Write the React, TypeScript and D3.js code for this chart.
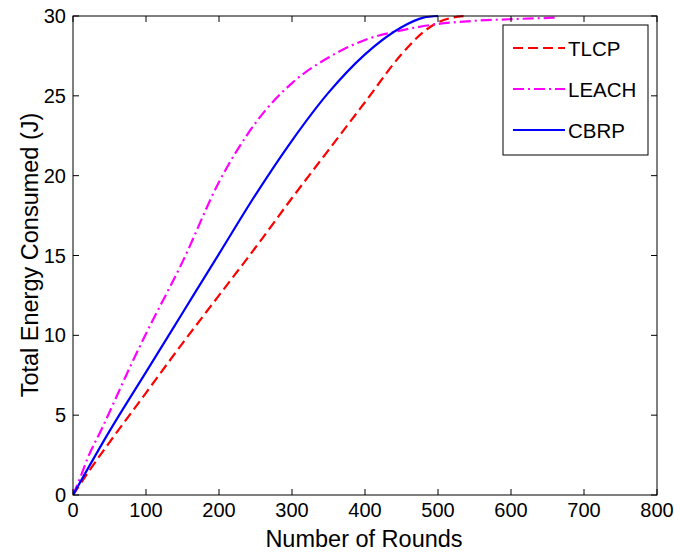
import React from 'react';
import * as d3 from 'd3';

// energy consumed vs rounds
const tlcpRounds = [0, 25, 50, 100, 150, 200, 250, 300, 350, 400, 450, 480, 500, 520, 540];
const tlcpEnergy = [0, 1.7, 3.3, 6.4, 9.5, 12.5, 15.5, 18.6, 21.6, 24.6, 27.6, 29.0, 29.6, 29.9, 30];

const leachRounds = [0, 10, 20, 40, 60, 80, 100, 150, 200, 250, 300, 350, 400, 450, 500, 550, 600, 665];
const leachEnergy = [0, 1.1, 2.3, 4.2, 6.2, 8.2, 10.1, 14.6, 19.6, 23.3, 25.8, 27.4, 28.5, 29.1, 29.5, 29.7, 29.8, 29.9];

const cbrpRounds = [0, 50, 100, 150, 200, 250, 300, 350, 400, 450, 480, 500];
const cbrpEnergy = [0, 4.0, 7.7, 11.4, 15.1, 18.8, 22.2, 25.2, 27.6, 29.3, 29.9, 30];

const xTicks = [0, 100, 200, 300, 400, 500, 600, 700, 800];
const yTicks = [0, 5, 10, 15, 20, 25, 30];

const series = [
  { name: 'TLCP', x: tlcpRounds, y: tlcpEnergy, color: '#ff0000', dash: '10,5' },
  { name: 'LEACH', x: leachRounds, y: leachEnergy, color: '#ff00ff', dash: '11,4,2,4' },
  { name: 'CBRP', x: cbrpRounds, y: cbrpEnergy, color: '#0000ff', dash: null },
];

const left = 73, top = 16, right = 657, bottom = 495;

export default function App() {
  const x = d3.scaleLinear().domain([0, 800]).range([left, right]);
  const y = d3.scaleLinear().domain([0, 30]).range([bottom, top]);
  const line = d3.line<[number, number]>()
    .x(d => x(d[0]))
    .y(d => y(d[1]))
    .curve(d3.curveMonotoneX);

  const font = 'Arial, "Liberation Sans", sans-serif';

  return (
    <svg width={674} height={554} style={{ position: 'absolute', left: 0, top: 0 }}
      fontFamily={font}>
      <rect width={674} height={554} fill="#fff" />
      <defs>
        <clipPath id="plot">
          <rect x={left} y={top - 2} width={right - left} height={bottom - top + 2} />
        </clipPath>
      </defs>

      {series.map(s => (
        <path key={s.name}
          d={line(s.x.map((v, i) => [v, s.y[i]] as [number, number])) || ''}
          fill="none" stroke={s.color} strokeWidth={2.2}
          strokeDasharray={s.dash || undefined}
          clipPath="url(#plot)" />
      ))}

      {/* frame and ticks */}
      <rect x={left} y={top} width={right - left} height={bottom - top}
        fill="none" stroke="#000" strokeWidth={1} />
      {xTicks.map(t => (
        <g key={'x' + t}>
          <line x1={x(t)} x2={x(t)} y1={bottom} y2={bottom - 6} stroke="#000" />
          <line x1={x(t)} x2={x(t)} y1={top} y2={top + 6} stroke="#000" />
          <text x={x(t)} y={bottom + 22} textAnchor="middle" fontSize={20}>{t}</text>
        </g>
      ))}
      {yTicks.map(t => (
        <g key={'y' + t}>
          <line x1={left} x2={left + 6} y1={y(t)} y2={y(t)} stroke="#000" />
          <line x1={right} x2={right - 6} y1={y(t)} y2={y(t)} stroke="#000" />
          <text x={left - 7} y={y(t) + 7} textAnchor="end" fontSize={20}>{t}</text>
        </g>
      ))}

      <text x={364} y={547} textAnchor="middle" fontSize={23.5}>Number of Rounds</text>
      <text transform={`translate(38,${255}) rotate(-90)`} textAnchor="middle"
        fontSize={23.5}>Total Energy Consumed (J)</text>

      {/* legend */}
      <rect x={503} y={25} width={145} height={130} fill="#fff" stroke="#000" strokeWidth={1} />
      {series.map((s, i) => {
        const ly = 48 + i * 41;
        return (
          <g key={'l' + s.name}>
            <line x1={513} x2={565} y1={ly} y2={ly} stroke={s.color} strokeWidth={2.2}
              strokeDasharray={s.dash || undefined} />
            <text x={568} y={ly + 8} fontSize={20.5}>{s.name}</text>
          </g>
        );
      })}
    </svg>
  );
}
